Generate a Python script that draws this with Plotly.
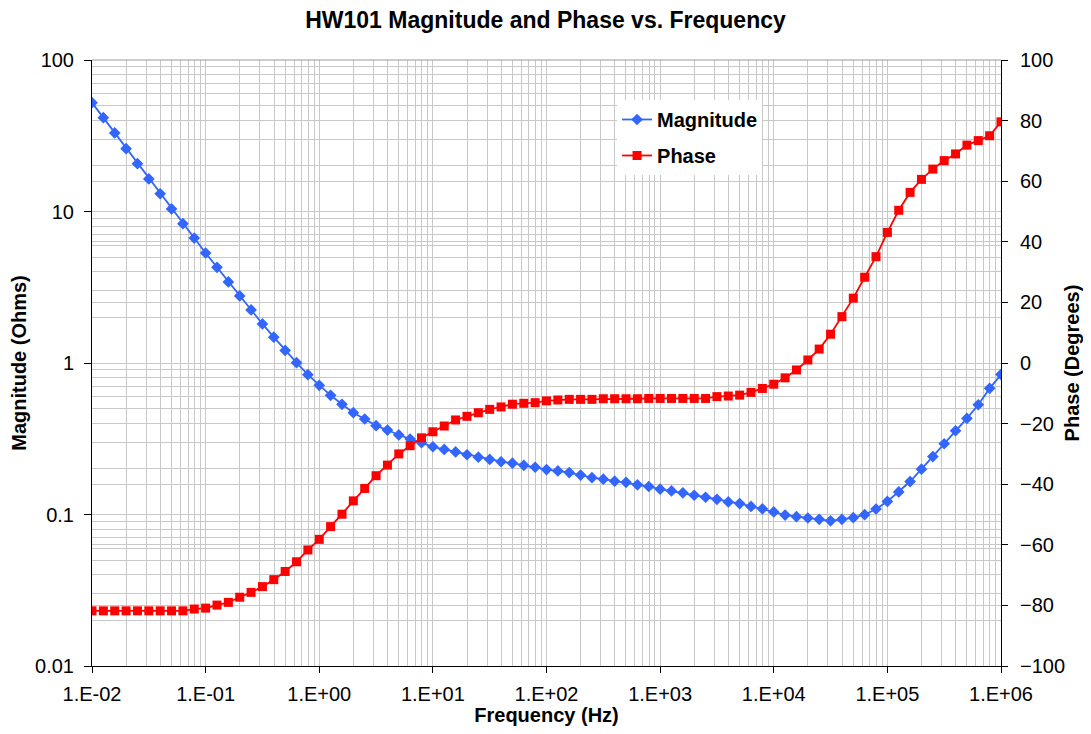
import plotly.graph_objects as go

# Frequency points: 10 per decade from 1e-2 to 1e6
exponents = [-2 + k / 10 for k in range(81)]
freq_hz = [10 ** e for e in exponents]

magnitude_ohms = [
    52.3, 41.6, 33.0, 26.0, 20.7, 16.4, 13.1, 10.4, 8.31, 6.68,
    5.32, 4.28, 3.43, 2.77, 2.24, 1.81, 1.48, 1.21, 1.005, 0.837,
    0.712, 0.612, 0.534, 0.470, 0.427, 0.386, 0.361, 0.335, 0.315, 0.298,
    0.280, 0.269, 0.259, 0.248, 0.239, 0.231, 0.223, 0.218, 0.211, 0.205,
    0.198, 0.194, 0.189, 0.182, 0.175, 0.171, 0.166, 0.163, 0.157, 0.153,
    0.147, 0.143, 0.139, 0.134, 0.130, 0.126, 0.121, 0.118, 0.113, 0.109,
    0.104, 0.0992, 0.0967, 0.0948, 0.0929, 0.0909, 0.0929, 0.0953, 0.0997, 0.1087,
    0.122, 0.141, 0.165, 0.199, 0.241, 0.293, 0.357, 0.431, 0.53, 0.68,
    0.84,
]

phase_deg = [
    -81.8, -81.8, -81.8, -81.8, -81.8, -81.8, -81.8, -81.8, -81.8, -81.2,
    -80.9, -79.9, -79.0, -77.3, -75.7, -73.8, -71.5, -68.8, -65.6, -61.7,
    -58.2, -54.0, -49.9, -45.5, -41.4, -37.2, -33.7, -30.0, -27.3, -24.7,
    -22.7, -20.8, -18.8, -17.6, -16.4, -15.3, -14.5, -13.6, -13.3, -13.1,
    -12.5, -12.2, -12.0, -12.0, -12.0, -11.8, -11.8, -11.8, -11.8, -11.7,
    -11.7, -11.7, -11.7, -11.7, -11.7, -11.1, -10.9, -10.6, -9.7, -8.4,
    -7.0, -4.9, -2.3, 1.0, 4.6, 9.5, 15.3, 21.4, 28.3, 35.1,
    43.1, 50.4, 56.3, 60.6, 64.0, 66.8, 69.0, 71.9, 73.4, 75.0,
    79.6,
]

x_tickvals = [1e-2, 1e-1, 1e0, 1e1, 1e2, 1e3, 1e4, 1e5, 1e6]
x_ticktext = ["1.E-02", "1.E-01", "1.E+00", "1.E+01", "1.E+02",
              "1.E+03", "1.E+04", "1.E+05", "1.E+06"]
y_tickvals = [0.01, 0.1, 1, 10, 100]
y_ticktext = ["0.01", "0.1", "1", "10", "100"]
y2_tickvals = list(range(-100, 101, 20))

FONT = "Liberation Sans, Arial, sans-serif"
GRID = "#c8c8c8"

fig = go.Figure()
fig.add_trace(go.Scatter(
    x=freq_hz, y=magnitude_ohms, name="<b>Magnitude</b>", mode="lines+markers",
    line=dict(color="#3366ff", width=1.8),
    marker=dict(symbol="diamond", size=9, color="#3366ff"),
    yaxis="y", legendgroup="mag",
))
fig.add_trace(go.Scatter(
    x=freq_hz, y=phase_deg, name="<b>Phase</b>", mode="lines+markers",
    line=dict(color="#ff0000", width=1.8),
    marker=dict(symbol="square", size=9, color="#ff0000"),
    yaxis="y2", legendgroup="ph",
))

fig.update_layout(
    width=1075, height=718,
    margin=dict(l=84, r=82, t=52, b=60),
    paper_bgcolor="white", plot_bgcolor="white",
    font=dict(family=FONT, size=20, color="black"),
    title=dict(text="<b>HW101 Magnitude and Phase vs. Frequency</b>",
               x=0.5, xanchor="center", y=1 - 12 / 718, yanchor="middle",
               font=dict(size=23, family=FONT)),
    showlegend=True,
    legend=dict(x=0.5776, y=0.934, xanchor="left", yanchor="top",
                bgcolor="white", borderwidth=0,
                font=dict(size=20, family=FONT, color="black"),
                tracegroupgap=7),
    xaxis=dict(
        type="log", range=[-2, 6], automargin=False,
        tickvals=x_tickvals, ticktext=x_ticktext,
        ticks="outside", ticklen=6, tickcolor="black",
        ticklabelstandoff=4,
        showline=True, linecolor="black", linewidth=1,
        showgrid=True, gridcolor=GRID, gridwidth=1,
        minor=dict(dtick="D1", showgrid=True, gridcolor=GRID, gridwidth=1, ticks=""),
        zeroline=False,
        title=dict(text="<b>Frequency (Hz)</b>", font=dict(size=20), standoff=7),
        tickfont=dict(size=20),
    ),
    yaxis=dict(
        type="log", range=[-2, 2], automargin=False,
        tickvals=y_tickvals, ticktext=y_ticktext,
        ticks="outside", ticklen=7, tickcolor="black",
        ticklabelstandoff=6,
        showline=True, linecolor="black", linewidth=1,
        showgrid=True, gridcolor=GRID, gridwidth=1,
        minor=dict(dtick="D1", showgrid=True, gridcolor=GRID, gridwidth=1, ticks=""),
        zeroline=False,
        title=dict(text="<b>Magnitude (Ohms)</b>", font=dict(size=20), standoff=14),
        tickfont=dict(size=20),
    ),
    yaxis2=dict(
        overlaying="y", side="right", range=[-100, 100], automargin=False,
        tickvals=y2_tickvals,
        ticks="outside", ticklen=6, tickcolor="black",
        ticklabelstandoff=8,
        showline=True, linecolor="black", linewidth=1,
        showgrid=True, gridcolor=GRID, gridwidth=1,
        zeroline=False,
        title=dict(text="<b>Phase (Degrees)</b>", font=dict(size=20), standoff=13),
        tickfont=dict(size=20),
    ),
)

# gray top border of plot area
fig.add_shape(type="line", xref="paper", yref="paper", x0=0, x1=1, y0=1, y1=1,
              line=dict(color="#999999", width=1), layer="above")

fig.write_html("out.html")
